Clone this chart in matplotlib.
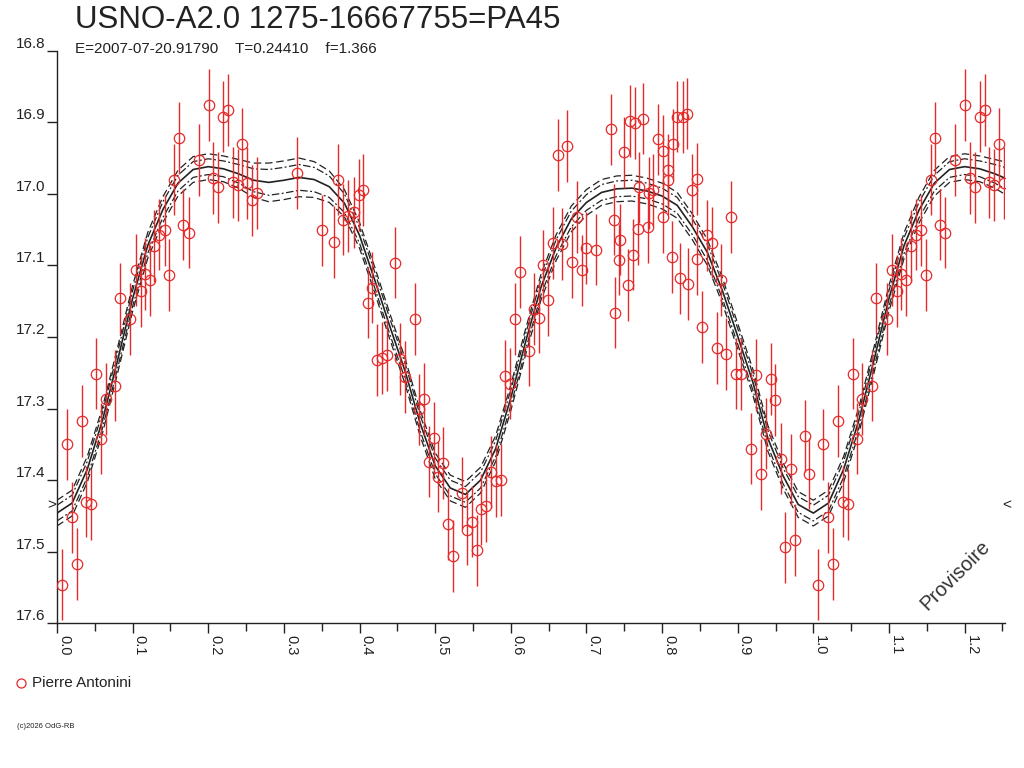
"""
Phase diagram of USNO-A2.0 1275-16667755 (PA45) - light curve with fit.
"""

import numpy as np
import matplotlib
matplotlib.use("Agg")
import matplotlib.pyplot as plt
from matplotlib.lines import Line2D
from matplotlib.transforms import blended_transform_factory

plt.rcParams["font.family"] = ["Liberation Sans", "DejaVu Sans"]

# -----------------------------
# Data (phase, magnitude), phase 0..1
# -----------------------------
phase = [
    0.0065, 0.0126, 0.0192, 0.0263, 0.0324, 0.0386, 0.0452, 0.0518, 0.0580, 0.0646,
    0.0773, 0.0835, 0.0968, 0.1038, 0.1104, 0.1162, 0.1223, 0.1289, 0.1351, 0.1426,
    0.1483, 0.1549, 0.1611, 0.1672, 0.1744, 0.1876, 0.2008, 0.2069, 0.2135, 0.2197,
    0.2263, 0.2325, 0.2391, 0.2452, 0.2518, 0.2580, 0.2646,
    0.3179, 0.3501, 0.3660, 0.3721, 0.3783, 0.3849, 0.3929, 0.3988, 0.4048,
    0.4110, 0.4171, 0.4237, 0.4303, 0.4365, 0.4471, 0.4533, 0.4599, 0.4731, 0.4792,
    0.4854, 0.4920, 0.4982, 0.5043, 0.5105, 0.5171, 0.5237, 0.5356, 0.5422, 0.5484,
    0.5551, 0.5611, 0.5678, 0.5740, 0.5802, 0.5868, 0.5929, 0.5991, 0.6057, 0.6116,
    0.6242, 0.6304, 0.6370, 0.6431, 0.6497, 0.6559, 0.6621, 0.6682, 0.6748, 0.6814,
    0.6876, 0.6939, 0.7000, 0.7128, 0.7322, 0.7362, 0.7383, 0.7427, 0.7449, 0.7494,
    0.7555, 0.7577, 0.7617, 0.7639, 0.7687, 0.7700, 0.7749, 0.7811, 0.7832, 0.7885,
    0.7943, 0.8009, 0.8018, 0.8075, 0.8084, 0.8136, 0.8141, 0.8202, 0.8238,
    0.8274, 0.8335, 0.8340, 0.8401, 0.8463, 0.8463, 0.8533, 0.8595, 0.8661, 0.8723,
    0.8784, 0.8850, 0.8916, 0.8978, 0.9044, 0.9177, 0.9243, 0.9309, 0.9375, 0.9437,
    0.9498, 0.9569, 0.9630, 0.9701, 0.9758, 0.9886, 0.9947,
]
mag = [
    17.546, 17.350, 17.452, 17.517, 17.317, 17.430, 17.434, 17.251, 17.342, 17.287,
    17.268, 17.146, 17.175, 17.106, 17.136, 17.112, 17.121, 17.073, 17.057, 17.051,
    17.113, 16.980, 16.922, 17.043, 17.054, 16.953, 16.876, 16.978, 16.991, 16.892,
    16.883, 16.984, 16.988, 16.930, 16.985, 17.009, 16.999,
    16.971, 17.051, 17.067, 16.980, 17.036, 17.031, 17.026, 17.002, 16.995,
    17.152, 17.131, 17.232, 17.229, 17.225, 17.096, 17.231, 17.256, 17.175, 17.301,
    17.287, 17.374, 17.341, 17.395, 17.376, 17.461, 17.506, 17.418, 17.469, 17.458,
    17.498, 17.441, 17.436, 17.389, 17.401, 17.400, 17.254, 17.265, 17.175, 17.109,
    17.219, 17.161, 17.173, 17.100, 17.148, 17.069, 16.946, 17.070, 16.933, 17.095,
    17.032, 17.107, 17.076, 17.078, 16.910, 17.036, 17.166, 17.092, 17.064, 16.942,
    17.127, 16.898, 17.085, 16.901, 17.049, 16.991, 16.895, 17.047, 16.999, 16.995,
    16.924, 17.032, 16.940, 16.967, 16.980, 17.088, 16.931, 16.892, 17.118,
    16.893, 16.888, 17.126, 16.995, 16.979, 17.091, 17.186, 17.058, 17.068, 17.215,
    17.120, 17.224, 17.032, 17.251, 17.252, 17.356, 17.253, 17.392, 17.335, 17.259,
    17.288, 17.370, 17.494, 17.385, 17.484, 17.338, 17.391,
]
ERR_BAR = 0.05  # all error bars have the same half-length

# fitted light curve (read at nodes) and its two confidence envelopes
fit_phase = [
    0.00, 0.02, 0.04, 0.06, 0.08, 0.10, 0.12, 0.14, 0.16, 0.18,
    0.20, 0.22, 0.24, 0.26, 0.28, 0.30, 0.32, 0.34, 0.36, 0.38,
    0.40, 0.42, 0.44, 0.46, 0.48, 0.50, 0.52, 0.54, 0.56, 0.58,
    0.60, 0.62, 0.64, 0.66, 0.68, 0.70, 0.72, 0.74, 0.76, 0.78,
    0.80, 0.82, 0.84, 0.86, 0.88, 0.90, 0.92, 0.94, 0.96, 0.98, 1.00,
]
fit_mag = [
    17.446, 17.432, 17.385, 17.317, 17.233, 17.146, 17.072, 17.022, 16.985, 16.966,
    16.962, 16.965, 16.972, 16.981, 16.984, 16.981, 16.977, 16.980, 16.990, 17.013,
    17.058, 17.120, 17.185, 17.247, 17.320, 17.380, 17.411, 17.420, 17.400, 17.356,
    17.285, 17.205, 17.130, 17.075, 17.035, 17.012, 16.998, 16.993, 16.992, 16.996,
    17.003, 17.016, 17.046, 17.082, 17.136, 17.199, 17.263, 17.342, 17.394, 17.434, 17.446,
]
band_inner = [
    0.011, 0.011, 0.011, 0.011, 0.011, 0.011, 0.011, 0.011, 0.011, 0.011,
    0.011, 0.011, 0.013, 0.016, 0.018, 0.018, 0.018, 0.017, 0.015, 0.013,
    0.011, 0.011, 0.011, 0.011, 0.011, 0.011, 0.011, 0.011, 0.011, 0.011,
    0.011, 0.011, 0.011, 0.011, 0.011, 0.011, 0.011, 0.011, 0.011, 0.011,
    0.011, 0.011, 0.011, 0.011, 0.011, 0.011, 0.011, 0.011, 0.011, 0.011, 0.011,
]
band_outer = [
    0.018, 0.018, 0.018, 0.018, 0.018, 0.018, 0.018, 0.018, 0.018, 0.018,
    0.018, 0.018, 0.020, 0.024, 0.027, 0.027, 0.027, 0.025, 0.022, 0.019,
    0.018, 0.018, 0.018, 0.018, 0.018, 0.018, 0.018, 0.018, 0.018, 0.018,
    0.018, 0.018, 0.018, 0.018, 0.018, 0.018, 0.018, 0.018, 0.018, 0.018,
    0.018, 0.018, 0.018, 0.018, 0.018, 0.018, 0.018, 0.018, 0.018, 0.018, 0.018,
]

title = "USNO-A2.0 1275-16667755=PA45"
subtitle = "E=2007-07-20.91790    T=0.24410    f=1.366"
observer = "Pierre Antonini"
y_ticks = [16.8, 16.9, 17.0, 17.1, 17.2, 17.3, 17.4, 17.5, 17.6]
x_ticks = [0.0, 0.1, 0.2, 0.3, 0.4, 0.5, 0.6, 0.7, 0.8, 0.9, 1.0, 1.1, 1.2]
MIN_LEVEL = 17.435  # level of the < > markers on both sides

PHASE_MAX = 1.2534
RED = "#e62a2a"
INK = "#222222"

# -----------------------------
# Repeat the beginning of the cycle past phase 1
# -----------------------------
ph = np.array(phase)
mg = np.array(mag)
rep = ph + 1 <= PHASE_MAX
ph_all = np.concatenate([ph, ph[rep] + 1])
mg_all = np.concatenate([mg, mg[rep]])

fp = np.array(fit_phase)
fm = np.array(fit_mag)
bi = np.array(band_inner)
bo = np.array(band_outer)
frep = (fp > 0) & (fp + 1 <= PHASE_MAX + 0.02)
fp_all = np.concatenate([fp, fp[frep] + 1])
fm_all = np.concatenate([fm, fm[frep]])
bi_all = np.concatenate([bi, bi[frep]])
bo_all = np.concatenate([bo, bo[frep]])

# -----------------------------
# Figure
# -----------------------------
fig = plt.figure(figsize=(10.24, 7.68), dpi=100)
ax = fig.add_axes([57 / 1024, 1 - 623.3 / 768, (1005 - 57) / 1024, (623.3 - 50.7) / 768])

ax.plot(fp_all, fm_all, color=INK, lw=1.2)
ax.plot(fp_all, fm_all - bi_all, color=INK, lw=0.9, ls=(0, (6, 2, 1.5, 2)))
ax.plot(fp_all, fm_all + bi_all, color=INK, lw=0.9, ls=(0, (6, 2, 1.5, 2)))
ax.plot(fp_all, fm_all - bo_all, color=INK, lw=0.9, ls=(0, (6, 3)))
ax.plot(fp_all, fm_all + bo_all, color=INK, lw=0.9, ls=(0, (6, 3)))

ax.errorbar(
    ph_all, mg_all, yerr=ERR_BAR, fmt="o", mfc="none", mec=RED, ecolor=RED,
    elinewidth=1.0, capsize=0, ms=7.5, mew=0.9, zorder=3
)

ax.set_xlim(0, PHASE_MAX)
ax.set_ylim(17.6, 16.8)

for side in ["top", "right"]:
    ax.spines[side].set_visible(False)
for side in ["left", "bottom"]:
    ax.spines[side].set_color(INK)
    ax.spines[side].set_linewidth(1.0)

ax.set_yticks(y_ticks)
ax.set_yticklabels([f"{v:.1f}" for v in y_ticks])
ax.tick_params(axis="y", direction="out", length=7.5, width=1, color=INK,
               labelsize=11, labelcolor=INK, pad=1)
for lab in ax.get_yticklabels():
    lab.set_verticalalignment("bottom")

ax.set_xticks(x_ticks)
ax.set_xticks([t + 0.05 for t in x_ticks], minor=True)
ax.set_xticklabels([f"{v:.1f}" for v in x_ticks], rotation=-90, ha="left", va="top")
ax.tick_params(axis="x", which="major", direction="out", length=7.5, width=1,
               color=INK, labelsize=10.5, labelcolor=INK, pad=1)
ax.tick_params(axis="x", which="minor", direction="out", length=6, width=1, color=INK)

# side markers
tr = blended_transform_factory(ax.transAxes, ax.transData)
ax.text(-0.006, MIN_LEVEL, ">", transform=tr, ha="center", va="center",
        fontsize=11, color=INK, clip_on=False)
ax.text(1.002, MIN_LEVEL, "<", transform=tr, ha="center", va="center",
        fontsize=11, color=INK, clip_on=False)

# texts
fig.text(75 / 1024, 1 - 28 / 768, title, fontsize=22.5, color=INK, va="baseline")
fig.text(75 / 1024, 1 - 53 / 768, subtitle, fontsize=11, color=INK, va="baseline")
fig.text(955 / 1024, 1 - 575 / 768, "Provisoire", fontsize=14.5, color="#333333",
         rotation=45, ha="center", va="center")
fig.text(17 / 1024, 1 - 728 / 768, "(c)2026 OdG-RB", fontsize=5.5, color=INK, va="baseline")

# legend
fig.add_artist(Line2D([21 / 1024], [1 - 683 / 768], transform=fig.transFigure,
                      marker="o", ms=6.5, mfc="none", mec=RED, mew=0.9, ls="none"))
fig.text(32 / 1024, 1 - 683 / 768, observer, fontsize=11, color=INK, va="center")

fig.savefig("out.png", dpi=100)
